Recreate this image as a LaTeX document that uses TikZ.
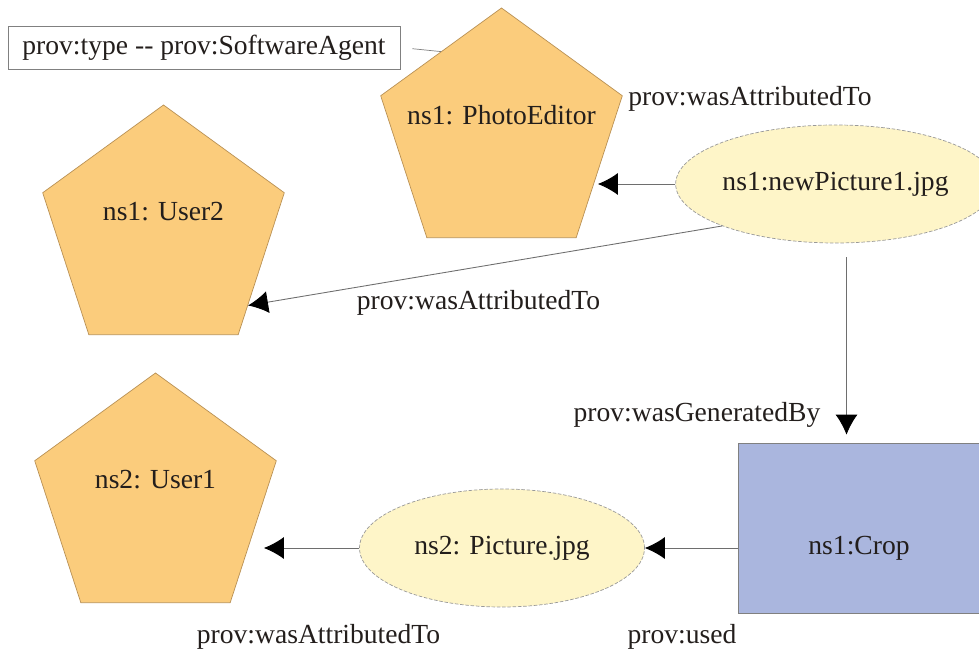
\documentclass[tikz,border=0pt]{standalone}
\usepackage{fontspec}
\setmainfont{Liberation Serif}
\usetikzlibrary{shapes,arrows.meta,positioning}
\definecolor{agentorange}{RGB}{251,204,124}
\definecolor{agentedge}{RGB}{185,145,85}
\definecolor{entityyellow}{RGB}{254,245,200}
\definecolor{activityblue}{RGB}{170,182,222}
\definecolor{linegray}{RGB}{110,110,110}
\definecolor{inkdark}{RGB}{35,30,28}

\begin{document}
\begin{tikzpicture}[
    font=\fontsize{15.7}{18}\selectfont, text=inkdark,
    agent/.style={regular polygon, regular polygon sides=5, minimum size=5.08cm,
        inner sep=0pt, fill=agentorange, draw=agentedge, line width=0.4pt},
    agentname/.style={yshift=0.4cm, inner sep=0pt},
    entity/.style={ellipse, minimum width=5.7cm, minimum height=2.36cm, inner sep=0pt,
        fill=entityyellow, draw=gray!80, dash pattern=on 2pt off 1pt, line width=0.4pt},
    activity/.style={rectangle, minimum width=4.84cm, minimum height=3.4cm, inner sep=0pt,
        fill=activityblue, draw=gray, line width=0.4pt, text height=1.2cm, text depth=0.14cm},
    relation/.style={draw=linegray, line width=0.5pt,
        -{Latex[length=4mm,width=4.4mm,color=black]}},
    rellabel/.style={inner sep=0pt}
]
\useasboundingbox (0,0) rectangle (19.58,13.02);

% Agents
\node[agent, label={[agentname]center:ns1: PhotoEditor}] (photo) at (10.03,10.32) {};
\node[agent, label={[agentname]center:ns1: User2}] (user2) at (3.27,8.38) {};
\node[agent, label={[agentname]center:ns2: User1}] (user1) at (3.11,3.02) {};

% Entities and activity
\node[entity] (newpic) at (16.71,9.34) {ns1:newPicture1.jpg};
\node[entity] (pic) at (10.04,2.06) {ns2: Picture.jpg};
\node[activity] (crop) at (17.18,2.46) {ns1:Crop};

% Agent type note
\node[draw=gray, line width=0.4pt, minimum width=7.84cm, minimum height=0.86cm, inner sep=0pt]
    (swtype) at (4.08,12.07) {prov:type -{}- prov:SoftwareAgent};
\draw[gray, line width=0.4pt, shorten <=0.24cm] (swtype.east) -- (photo.126);

% Relations
\draw[relation] (newpic.west) -- (photo.-21 |- newpic.west);
\draw[relation] (newpic.south west) -- (user2.-41);
\draw[relation, shorten <=0.28cm, shorten >=0.16cm]
    ([xshift=0.22cm]newpic.south) -- ([xshift=0.22cm]newpic.south |- crop.north);
\draw[relation] (crop.west |- pic.east) -- (pic.east);
\draw[relation] (pic.west) -- (user1.east |- pic.west);

% Relation labels
\node[rellabel] (attr1) at (15.0,11.04) {prov:wasAttributedTo};
\node[rellabel] (attr2) at (9.57,6.96) {prov:wasAttributedTo};
\node[rellabel] (genby) at (13.94,4.72) {prov:wasGeneratedBy};
\node[rellabel] (attr3) at (6.37,0.28) {prov:wasAttributedTo};
\node[rellabel] (used) at (13.64,0.28) {prov:used};
\end{tikzpicture}
\end{document}
